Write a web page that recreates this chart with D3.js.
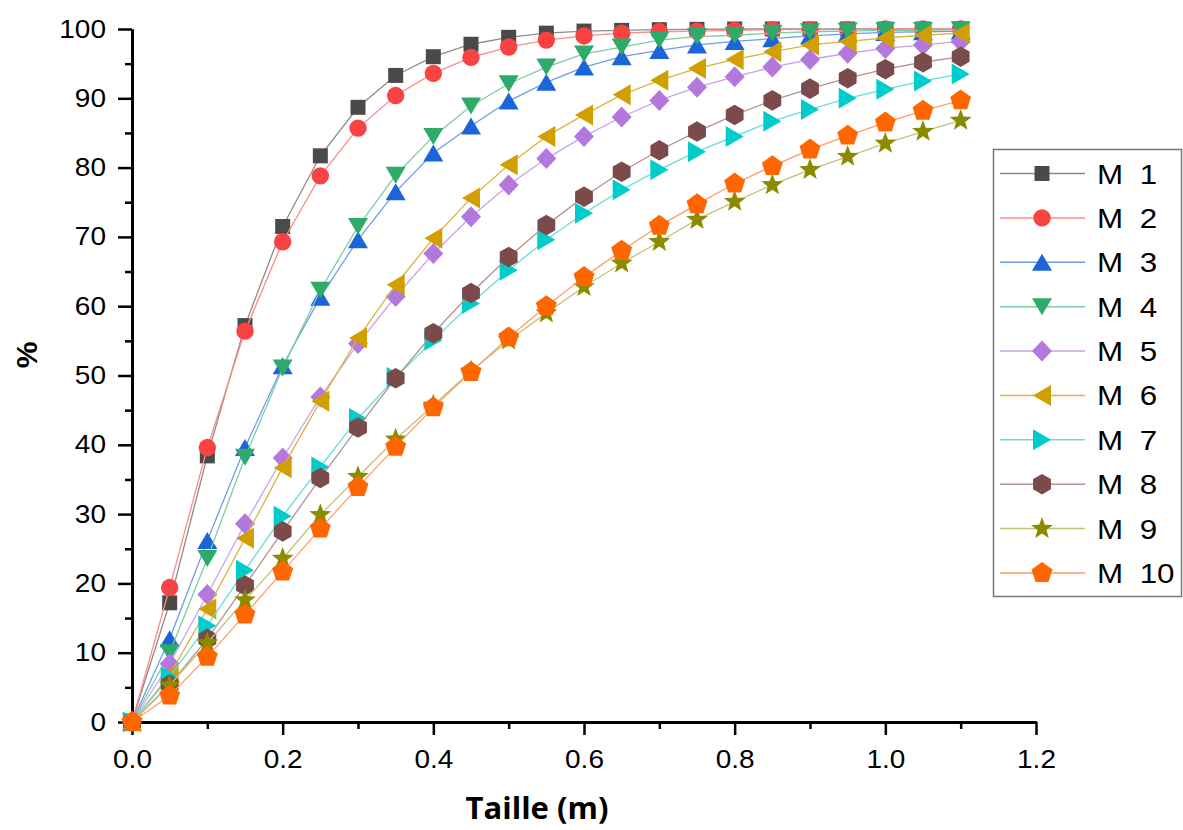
<!DOCTYPE html>
<html>
<head>
<meta charset="utf-8">
<script src="https://cdn.jsdelivr.net/npm/d3@7"></script>
<style>
  body { margin: 0; background: #fff; }
  svg { display: block; }
  .tick-label { font-family: "Liberation Sans", Arial, sans-serif; font-size: 25px; fill: #000; }
</style>
</head>
<body>
<svg id="chart" width="1183" height="830"></svg>
<script>
// x positions (Taille, m)
const xValues = [0, 0.05, 0.1, 0.15, 0.2, 0.25, 0.3, 0.35, 0.4, 0.45, 0.5, 0.55,
  0.6, 0.65, 0.7, 0.75, 0.8, 0.85, 0.9, 0.95, 1.0, 1.05, 1.1];

const seriesNames = ["M 1", "M 2", "M 3", "M 4", "M 5", "M 6", "M 7", "M 8", "M 9", "M 10"];

// % values
const m1 = [0, 17.2, 38.4, 57.2, 71.5, 81.7, 88.7, 93.3, 96.0, 97.8, 98.8, 99.4, 99.7, 99.8, 99.9, 99.95, 100, 100, 100, 100, 100, 100, 100];
const m2 = [0, 19.4, 39.6, 56.4, 69.3, 78.8, 85.7, 90.4, 93.6, 95.9, 97.4, 98.4, 99.0, 99.4, 99.6, 99.7, 99.8, 99.9, 99.9, 99.9, 100, 100, 100];
const m3 = [0, 12.0, 26.2, 39.6, 51.4, 61.3, 69.6, 76.5, 82.1, 86.0, 89.6, 92.3, 94.5, 96.0, 96.9, 97.7, 98.2, 98.6, 99.0, 99.3, 99.5, 99.6, 99.7];
const m4 = [0, 10.0, 23.6, 38.2, 51.1, 62.3, 71.5, 78.9, 84.5, 88.9, 92.1, 94.5, 96.4, 97.4, 98.4, 98.9, 99.1, 99.4, 99.6, 99.7, 99.8, 99.8, 99.9];
const m5 = [0, 8.4, 18.4, 28.6, 38.1, 46.9, 54.6, 61.4, 67.6, 72.9, 77.5, 81.3, 84.5, 87.3, 89.7, 91.6, 93.1, 94.5, 95.6, 96.5, 97.2, 97.7, 98.2];
const m6 = [0, 6.8, 16.3, 26.5, 36.7, 46.3, 55.4, 63.1, 69.8, 75.6, 80.4, 84.5, 87.6, 90.5, 92.6, 94.3, 95.6, 96.7, 97.7, 98.2, 98.7, 99.1, 99.4];
const m7 = [0, 6.5, 13.9, 21.9, 29.7, 36.8, 43.8, 49.7, 55.1, 60.4, 65.2, 69.6, 73.4, 76.8, 79.7, 82.3, 84.5, 86.7, 88.4, 90.0, 91.3, 92.5, 93.5];
const m8 = [0, 5.4, 12.0, 19.7, 27.5, 35.2, 42.5, 49.6, 56.1, 61.9, 67.1, 71.7, 75.8, 79.4, 82.5, 85.2, 87.6, 89.7, 91.4, 92.9, 94.2, 95.2, 96.0];
const m9 = [0, 5.3, 11.4, 17.6, 23.6, 29.9, 35.4, 40.8, 45.7, 50.6, 55.1, 59.0, 62.8, 66.2, 69.3, 72.5, 75.1, 77.5, 79.7, 81.6, 83.5, 85.2, 86.8];
const m10 = [0, 3.8, 9.4, 15.5, 21.7, 27.9, 33.9, 39.7, 45.4, 50.5, 55.5, 60.0, 64.2, 68.0, 71.6, 74.7, 77.7, 80.2, 82.6, 84.6, 86.5, 88.2, 89.7];

const xMajorTicks = [0, 0.2, 0.4, 0.6, 0.8, 1.0, 1.2];
const xMinorTicks = [0.1, 0.3, 0.5, 0.7, 0.9, 1.1];
const yMajorTicks = [0, 10, 20, 30, 40, 50, 60, 70, 80, 90, 100];
const yMinorTicks = [5, 15, 25, 35, 45, 55, 65, 75, 85, 95];

const allValues = [m1, m2, m3, m4, m5, m6, m7, m8, m9, m10];
const markerColors = ["#4a4a4a", "#f84343", "#1a66d9", "#2eaa6a", "#b478dc", "#d29f00", "#00cccc", "#7b4a4a", "#8b8b00", "#ff6600"];
const lineColors = ["#8c8c8c", "#ff8a8a", "#6d9eeb", "#7fcca3", "#c9a2ee", "#dcb442", "#66dddd", "#b39393", "#c2c27a", "#ff9e66"];
const shapes = ["square", "circle", "triUp", "triDown", "diamond", "triLeft", "triRight", "hexagon", "star", "pentagon"];

const svg = d3.select("#chart");
const stretch = 1.12; // text in the picture is a bit wide

const x = d3.scaleLinear().domain([0, 1.2]).range([132, 1036]);
const y = d3.scaleLinear().domain([0, 100]).range([722, 29]);

//marker shapes centred on 0,0
function polygon(n, r, rot) {
  const pts = d3.range(n).map(k => {
    const a = rot + k * 2 * Math.PI / n;
    return [r * Math.cos(a), r * Math.sin(a)];
  });
  return "M" + pts.map(p => p.join(",")).join("L") + "Z";
}
function shapePath(kind) {
  switch (kind) {
    case "square": return "M-7.5,-7.5h15v15h-15Z";
    case "circle": return d3.symbol(d3.symbolCircle, Math.PI * 8.7 * 8.7)();
    case "triUp": return "M0,-8.5L10,8.5L-10,8.5Z";
    case "triDown": return "M0,8.5L10,-8.5L-10,-8.5Z";
    case "triLeft": return "M-9,0L9,-10.5L9,10.5Z";
    case "triRight": return "M9,0L-9,-10.5L-9,10.5Z";
    case "diamond": return "M0,-10.5L10,0L0,10.5L-10,0Z";
    case "hexagon": return polygon(6, 10.3, -Math.PI / 2);
    case "pentagon": return polygon(5, 11, -Math.PI / 2);
    case "star": {
      const pts = d3.range(10).map(k => {
        const r = k % 2 === 0 ? 11.5 : 4.8;
        const a = -Math.PI / 2 + k * Math.PI / 5;
        return [r * Math.cos(a), r * Math.sin(a)];
      });
      return "M" + pts.map(p => p.join(",")).join("L") + "Z";
    }
  }
}

//Axes
const yAxisMinor = svg.append("g")
  .attr("transform", `translate(${x(0)},0)`)
  .call(d3.axisLeft(y).tickValues(yMinorTicks).tickSize(7).tickSizeOuter(0).tickFormat(""));
const yAxis = svg.append("g")
  .attr("transform", `translate(${x(0)},0)`)
  .call(d3.axisLeft(y).tickValues(yMajorTicks).tickSize(14).tickSizeOuter(0).tickPadding(12).tickFormat(d3.format("d")));
const xAxisMinor = svg.append("g")
  .attr("transform", `translate(0,${y(0)})`)
  .call(d3.axisBottom(x).tickValues(xMinorTicks).tickSize(7).tickSizeOuter(0).tickFormat(""));
const xAxis = svg.append("g")
  .attr("transform", `translate(0,${y(0)})`)
  .call(d3.axisBottom(x).tickValues(xMajorTicks).tickSize(13).tickSizeOuter(0).tickPadding(15).tickFormat(d3.format(".1f")));

[yAxisMinor, yAxis, xAxisMinor, xAxis].forEach(a => {
  a.selectAll("path.domain").attr("stroke", "#000").attr("stroke-width", 3);
  a.selectAll(".tick line").attr("stroke", "#000").attr("stroke-width", 2.5);
});
yAxis.selectAll("text")
  .attr("class", "tick-label")
  .attr("font-family", null).attr("font-size", null)
  .attr("x", -26 / stretch)
  .attr("transform", `scale(${stretch},1)`);
xAxis.selectAll("text")
  .attr("class", "tick-label")
  .attr("font-family", null).attr("font-size", null)
  .attr("transform", `scale(${stretch},1)`);

//Axis titles
svg.append("text")
  .attr("transform", "translate(37,355) rotate(-90)")
  .attr("text-anchor", "middle")
  .style("font-family", "'Liberation Sans', Arial, sans-serif")
  .style("font-weight", "bold")
  .style("font-size", "30px")
  .text("%");

svg.append("text")
  .attr("x", 537).attr("y", 819)
  .attr("text-anchor", "middle")
  .style("font-family", "'Open Sans', sans-serif")
  .style("font-weight", "bold")
  .style("font-size", "31px")
  .text("Taille (m)");

//Series: line then markers, in order
const line = d3.line().x((d, i) => x(xValues[i])).y(d => y(d));
allValues.forEach((vals, s) => {
  const g = svg.append("g").attr("class", "series");
  g.append("path")
    .attr("d", line(vals))
    .attr("fill", "none")
    .attr("stroke", lineColors[s])
    .attr("stroke-width", 1.3);
  g.selectAll("path.marker")
    .data(vals)
    .join("path")
    .attr("class", "marker")
    .attr("d", shapePath(shapes[s]))
    .attr("transform", (d, i) => `translate(${x(xValues[i])},${y(d)})`)
    .attr("fill", markerColors[s]);
});

//Legend
const legend = svg.append("g");
legend.append("rect")
  .attr("x", 993.5).attr("y", 149.5)
  .attr("width", 188).attr("height", 447)
  .attr("fill", "#fff")
  .attr("stroke", "#777")
  .attr("stroke-width", 1.5);

const rowY = d3.scalePoint().domain(seriesNames).range([173.5, 573]);
seriesNames.forEach((name, s) => {
  const row = legend.append("g").attr("transform", `translate(0,${rowY(name)})`);
  row.append("line")
    .attr("x1", 1000).attr("x2", 1085)
    .attr("stroke", lineColors[s]).attr("stroke-width", 1.5);
  row.append("path")
    .attr("d", shapePath(shapes[s]))
    .attr("transform", "translate(1042,0)")
    .attr("fill", markerColors[s]);
  row.append("text")
    .attr("x", 1097 / stretch).attr("y", 10)
    .attr("transform", `scale(${stretch},1)`)
    .style("font-family", "'Liberation Sans', Arial, sans-serif")
    .style("font-size", "28px")
    .style("word-spacing", "7px")
    .text(name);
});
</script>
</body>
</html>
